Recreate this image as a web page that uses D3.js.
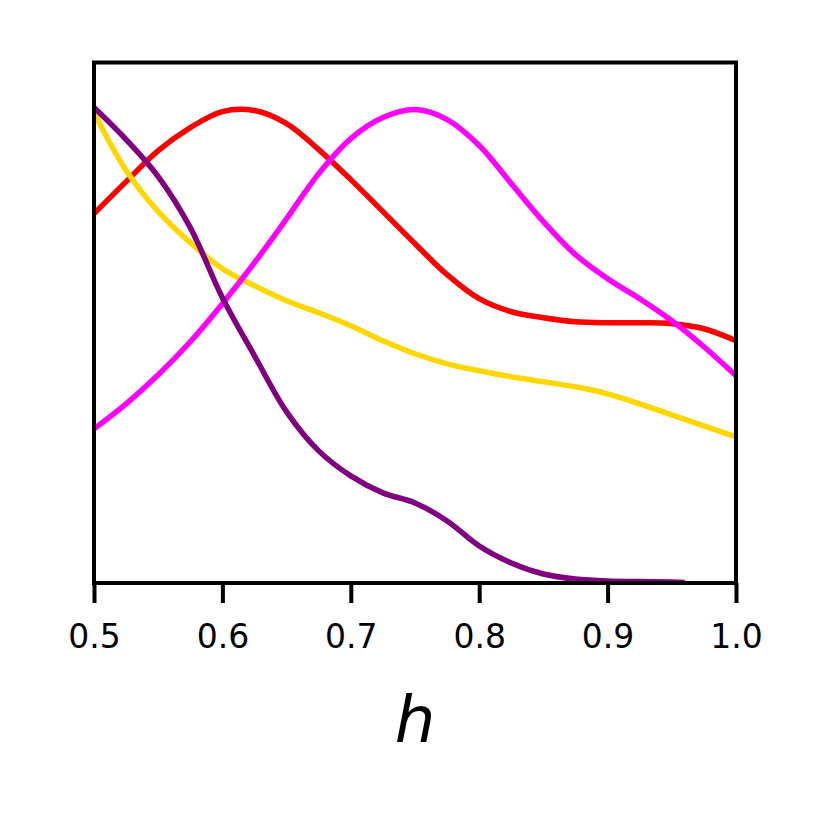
<!DOCTYPE html>
<html>
<head>
<meta charset="utf-8">
<script src="https://cdn.jsdelivr.net/npm/d3@7"></script>
<style>
  body { margin: 0; background: #fff; }
  svg { display: block; }
</style>
</head>
<body>
<div id="container"></div>
<script>
// h grid the curves were read on
const hValues = [0.5, 0.525, 0.55, 0.575, 0.6, 0.625, 0.65, 0.675, 0.7, 0.725, 0.75,
                 0.775, 0.8, 0.825, 0.85, 0.875, 0.9, 0.925, 0.95, 0.975, 1.0]
const redValues = [3.69, 4.01, 4.32, 4.55, 4.71, 4.72, 4.59, 4.33, 4.03, 3.71, 3.39,
                   3.08, 2.84, 2.71, 2.65, 2.61, 2.60, 2.60, 2.59, 2.54, 2.42]
const magentaValues = [1.54, 1.79, 2.08, 2.41, 2.79, 3.20, 3.64, 4.09, 4.44, 4.65, 4.73,
                       4.63, 4.37, 3.99, 3.61, 3.28, 3.04, 2.84, 2.62, 2.36, 2.07]
const goldValues = [4.70, 4.12, 3.71, 3.40, 3.14, 2.97, 2.82, 2.70, 2.57, 2.42, 2.29,
                    2.19, 2.12, 2.06, 2.01, 1.96, 1.89, 1.79, 1.68, 1.57, 1.46]
// purple stops a bit before 1.0
const purpleH = [0.5, 0.525, 0.55, 0.575, 0.6, 0.625, 0.65, 0.675, 0.7, 0.725, 0.75,
                 0.775, 0.8, 0.825, 0.85, 0.875, 0.9, 0.925, 0.95, 0.96]
const purpleValues = [4.75, 4.43, 4.06, 3.55, 2.85, 2.27, 1.71, 1.32, 1.07, 0.90, 0.80,
                      0.62, 0.37, 0.20, 0.09, 0.04, 0.02, 0.015, 0.01, 0.005]
const tickValues = [0.5, 0.6, 0.7, 0.8, 0.9, 1.0]

const series = [
  {name: 'red', h: hValues, v: redValues, color: '#ff0000'},
  {name: 'gold', h: hValues, v: goldValues, color: '#ffd700'},
  {name: 'magenta', h: hValues, v: magentaValues, color: '#ff00ff'},
  {name: 'purple', h: purpleH, v: purpleValues, color: '#800080'}
]

let W = 830, H = 830
let mLeft = 94, mRight = 736, mTop = 62.5, mBottom = 583

let svg = d3.select('#container').append('svg')
    .attr('width', W).attr('height', H)

let x = d3.scaleLinear().domain([0.5, 1.0]).range([mLeft, mRight])
let y = d3.scaleLinear().domain([0, 5.2]).range([mBottom, mTop])

svg.append('defs').append('clipPath').attr('id', 'clip')
    .append('rect')
    .attr('x', mLeft).attr('y', mTop)
    .attr('width', mRight - mLeft).attr('height', mBottom - mTop)

let line = d3.line()
    .x(d => x(d[0]))
    .y(d => y(d[1]))
    .curve(d3.curveCatmullRom.alpha(0.5))

svg.append('g').attr('clip-path', 'url(#clip)')
    .selectAll('path')
    .data(series)
    .enter()
    .append('path')
    .attr('fill', 'none')
    .attr('stroke', d => d.color)
    .attr('stroke-width', 5.5)
    .attr('stroke-linejoin', 'round')
    .attr('d', d => line(d.h.map((h, i) => [h, d.v[i]])))

// frame
svg.append('rect')
    .attr('x', mLeft).attr('y', mTop)
    .attr('width', mRight - mLeft).attr('height', mBottom - mTop)
    .attr('fill', 'none')
    .attr('stroke', '#000')
    .attr('stroke-width', 4)

let xAxis = d3.axisBottom(x)
    .tickValues(tickValues)
    .tickFormat(d3.format('.1f'))
    .tickSize(20)
    .tickPadding(22)

let gx = svg.append('g')
    .attr('transform', `translate(0,${mBottom})`)
    .call(xAxis)
gx.select('.domain').remove()
gx.selectAll('.tick line').attr('stroke', '#000').attr('stroke-width', 4)
gx.selectAll('.tick text')
    .attr('fill', '#000')
    .style('font-family', 'DejaVu Sans')
    .style('font-size', '33px')

svg.append('text')
    .attr('x', (mLeft + mRight) / 2)
    .attr('y', 742)
    .attr('text-anchor', 'middle')
    .style('font-family', 'DejaVu Sans')
    .style('font-style', 'italic')
    .style('font-size', '64px')
    .text('h')
</script>
</body>
</html>
